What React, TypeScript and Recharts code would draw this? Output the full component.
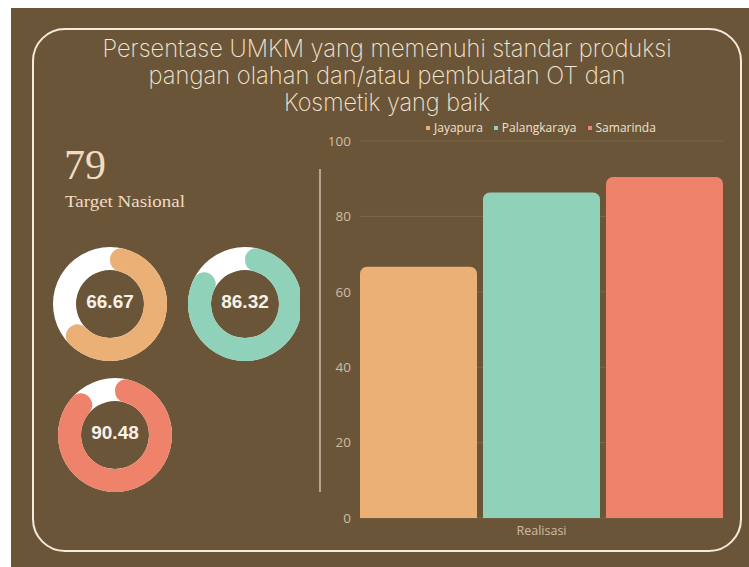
import React from 'react';
import { BarChart, Bar, XAxis, YAxis, CartesianGrid, PieChart, Pie, Cell } from 'recharts';

// values
const cities = ['Jayapura', 'Palangkaraya', 'Samarinda'];
const realisasi = [66.67, 86.32, 90.48];
const cityColors = ['#ebb075', '#8fd1b9', '#ee826a'];
const yTicks = [0, 20, 40, 60, 80, 100];
const categoryLabel = 'Realisasi';
const targetNasional = 79;
const targetLabel = 'Target Nasional';
const titleLines = [
  'Persentase UMKM yang memenuhi standar produksi',
  'pangan olahan dan/atau pembuatan OT dan',
  'Kosmetik yang baik',
];

// layout only
const titleWidths = [569, 477, 206];
const titleY = [57, 84, 111];
const donutCenters = [
  { x: 110, y: 304 },
  { x: 245, y: 304 },
  { x: 115, y: 435 },
];

const BROWN = '#6b5539';
const CREAM = '#f3e6d2';
const TICK = '#cdbda6';

const barData = [
  {
    name: categoryLabel,
    ...Object.fromEntries(cities.map((c, i) => [c, realisasi[i]])),
  },
];

export default function App() {
  return (
    <div style={{ position: 'absolute', left: 0, top: 0, width: 749, height: 567, background: '#fff', overflow: 'hidden' }}>
      <div style={{ position: 'absolute', left: 11, top: 8, width: 738, height: 559, background: BROWN }} />

      {/* frame, title, target */}
      <svg width={749} height={567} style={{ position: 'absolute', left: 0, top: 0 }}>
        <rect x={33} y={29} width={708} height={522} rx={32} fill="none" stroke="#f4ebdc" strokeWidth={2} />
        {titleLines.map((t, i) => (
          <text
            key={i}
            x={387}
            y={titleY[i]}
            textAnchor="middle"
            textLength={titleWidths[i]}
            lengthAdjust="spacingAndGlyphs"
            fill={CREAM}
            style={{ fontFamily: 'Inter', fontWeight: 200, fontSize: 24 }}
          >
            {t}
          </text>
        ))}
        <text x={64} y={179} fill="#f0dcc4" style={{ fontFamily: 'Liberation Serif', fontWeight: 400, fontSize: 42 }}>
          {targetNasional}
        </text>
        <text
          x={65}
          y={207}
          textLength={120}
          lengthAdjust="spacingAndGlyphs"
          fill="#f0dcc4"
          style={{ fontFamily: 'Liberation Serif', fontSize: 16.5 }}
        >
          {targetLabel}
        </text>
        <line x1={320} y1={169} x2={320} y2={492} stroke="#e8dcc8" strokeWidth={1.2} />
      </svg>

      {/* donuts */}
      <div style={{ position: 'absolute', left: 0, top: 0 }}>
        <PieChart width={300} height={567} margin={{ top: 0, right: 0, bottom: 0, left: 0 }}>
          {donutCenters.map((c, i) => (
            <Pie
              key={'bg' + i}
              data={[{ value: 1 }]}
              dataKey="value"
              cx={c.x}
              cy={c.y}
              innerRadius={34}
              outerRadius={57}
              startAngle={90}
              endAngle={-270}
              fill="#ffffff"
              stroke="none"
              isAnimationActive={false}
            />
          ))}
          {donutCenters.map((c, i) => (
            <Pie
              key={'v' + i}
              data={[{ value: realisasi[i] }, { value: 100 - realisasi[i] }]}
              dataKey="value"
              cx={c.x}
              cy={c.y}
              innerRadius={34}
              outerRadius={57}
              startAngle={90}
              endAngle={-270}
              cornerRadius={11}
              stroke="none"
              isAnimationActive={false}
              labelLine={false}
              label={(p: any) =>
                p.index === 0 ? (
                  <text
                    x={c.x}
                    y={c.y - 3}
                    textAnchor="middle"
                    dominantBaseline="central"
                    fill="#f8f1e7"
                    style={{ fontFamily: 'Liberation Sans', fontWeight: 700, fontSize: 19 }}
                  >
                    {realisasi[i].toFixed(2)}
                  </text>
                ) : null
              }
            >
              <Cell fill={cityColors[i]} />
              <Cell fill="transparent" />
            </Pie>
          ))}
        </PieChart>
      </div>

      {/* bar chart */}
      <div style={{ position: 'absolute', left: 300, top: 110 }}>
        <BarChart
          width={440}
          height={440}
          data={barData}
          margin={{ top: 31, right: 17, bottom: 7, left: 0 }}
          barCategoryGap={0}
          barGap={6}
        >
          <CartesianGrid vertical={false} stroke="#7c6749" strokeWidth={1} />
          <XAxis
            dataKey="name"
            axisLine={false}
            tickLine={false}
            height={25}
            tick={{ fill: TICK, fontSize: 12.5, fontFamily: 'Open Sans' }}
          />
          <YAxis
            width={60}
            domain={[0, 100]}
            ticks={yTicks}
            axisLine={false}
            tickLine={false}
            tickMargin={3}
            tick={{ fill: TICK, fontSize: 13.5, fontFamily: 'Open Sans' }}
          />
          {cities.map((c, i) => (
            <Bar key={c} dataKey={c} fill={cityColors[i]} radius={[7, 7, 0, 0]} isAnimationActive={false} />
          ))}
        </BarChart>
      </div>

      {/* legend */}
      <div
        style={{
          position: 'absolute',
          left: 426,
          top: 119,
          display: 'flex',
          gap: 11,
          fontFamily: 'Open Sans',
          fontSize: 12,
          color: '#efe2cf',
          whiteSpace: 'nowrap',
        }}
      >
        {cities.map((c, i) => (
          <span key={c} style={{ display: 'flex', alignItems: 'center' }}>
            <span style={{ width: 4, height: 4, background: cityColors[i], marginRight: 4, display: 'inline-block' }} />
            {c}
          </span>
        ))}
      </div>
    </div>
  );
}
